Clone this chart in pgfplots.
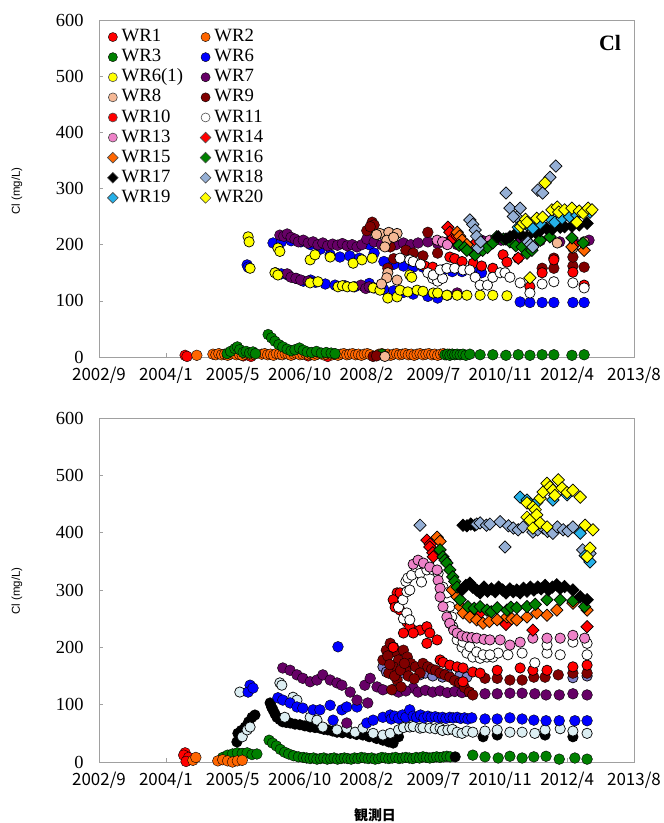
\documentclass[border=0pt]{standalone}
\usepackage{fontspec}
\setmainfont{Liberation Serif}
\newfontfamily\jpfont{Noto Sans CJK JP}
\newfontfamily\sansfont{Liberation Sans}
\usepackage{pgfplots}
\pgfplotsset{compat=1.18}

\definecolor{cRed}{HTML}{FF0000}
\definecolor{cOrange}{HTML}{FF6600}
\definecolor{cGreen}{HTML}{008000}
\definecolor{cBlue}{HTML}{0000FF}
\definecolor{cYellow}{HTML}{FFFF00}
\definecolor{cPurple}{HTML}{660066}
\definecolor{cPeach}{HTML}{F5B895}
\definecolor{cMaroon}{HTML}{800000}
\definecolor{cPink}{HTML}{EE82C8}
\definecolor{cSteel}{HTML}{95AFD5}
\definecolor{cSky}{HTML}{25B0E8}
\definecolor{cPale}{HTML}{DCEEF2}
\definecolor{cLav}{HTML}{8080C8}
\definecolor{cFrame}{HTML}{A0A0A0}

% left legend column gets a fixed width
\newcommand{\lcol}[1]{\makebox[75bp][l]{#1}}

\pgfplotsset{
  pc/.style={only marks, mark=*, mark size=5.4pt, mark options={draw=none, fill=#1}},
  ec/.style={only marks, mark=*, mark size=5.2pt, mark options={draw=black, fill=#1, line width=0.7pt}},
  ed/.style={only marks, mark=square*, mark size=4.4pt, mark options={rotate=45, draw=black, fill=#1, line width=0.7pt}},
  lc/.style={only marks, mark=*, mark size=4.6pt, mark options={draw=none, fill=#1}},
  lec/.style={only marks, mark=*, mark size=4.5pt, mark options={draw=black!70, fill=#1, line width=0.6pt}},
  led/.style={only marks, mark=square*, mark size=3.8pt, mark options={rotate=45, draw=black!70, fill=#1, line width=0.6pt}},
  panel/.style={
    scale only axis, width=535bp, clip=false,
    xmin=2002.667, xmax=2013.621, ymin=0, ymax=600,
    xtick={2002.667,2004.036,2005.405,2006.775,2008.144,2009.513,2010.882,2012.252,2013.621},
    xticklabels={2002/9,2004/1,2005/5,2006/10,2008/2,2009/7,2010/11,2012/4,2013/8},
    ytick={0,100,...,600},
    tick pos=left, tick align=inside, major tick length=4bp,
    axis line style={draw=cFrame, line width=0.8bp},
    tick style={draw=cFrame, line width=0.6bp},
    xticklabel style={font=\jpfont\fontsize{17}{17}\selectfont, yshift=-7bp},
    yticklabel style={font=\fontsize{18.5}{18.5}\selectfont, xshift=-12bp},
    /pgf/number format/assume math mode=true,
  },
}

\begin{document}
\begin{tikzpicture}
\path[use as bounding box] (0,0) rectangle (664bp,-823bp);

% ---------------- upper panel ----------------
\begin{axis}[panel, at={(99bp,-357bp)}, anchor=south west, height=337bp,
  legend columns=2, legend cell align=left,
  legend style={at={(0,1)}, anchor=north west, xshift=8.5bp, yshift=-7bp,
    draw=none, fill=none, inner sep=0pt, outer sep=0pt,
    font=\fontsize{18.8}{18.8}\selectfont,
    nodes={text height=13.5bp, text depth=4.3bp, inner ysep=1.15bp, inner xsep=3.5bp}}]

\addlegendimage{lc=cRed}\addlegendentry{\lcol{WR1}}
\addlegendimage{lc=cOrange}\addlegendentry{WR2}
\addlegendimage{lc=cGreen}\addlegendentry{\lcol{WR3}}
\addlegendimage{lc=cBlue}\addlegendentry{WR6}
\addlegendimage{lec=cYellow}\addlegendentry{\lcol{WR6(1)}}
\addlegendimage{lc=cPurple}\addlegendentry{WR7}
\addlegendimage{lec=cPeach}\addlegendentry{\lcol{WR8}}
\addlegendimage{lc=cMaroon}\addlegendentry{WR9}
\addlegendimage{lec=cRed}\addlegendentry{\lcol{WR10}}
\addlegendimage{lec=white}\addlegendentry{WR11}
\addlegendimage{lec=cPink}\addlegendentry{\lcol{WR13}}
\addlegendimage{led=cRed}\addlegendentry{WR14}
\addlegendimage{led=cOrange}\addlegendentry{\lcol{WR15}}
\addlegendimage{led=cGreen}\addlegendentry{WR16}
\addlegendimage{led=black}\addlegendentry{\lcol{WR17}}
\addlegendimage{led=cSteel}\addlegendentry{WR18}
\addlegendimage{led=cSky}\addlegendentry{\lcol{WR19}}
\addlegendimage{led=cYellow}\addlegendentry{WR20}

% WR1
\addplot[pc=cRed, forget plot] coordinates {(2004.43,3) (2004.47,1) (2005.62,2) (2005.78,1) (2006.95,2) (2007.35,1)};
% WR2
\addplot[pc=cOrange, forget plot] coordinates {
(2004.67,3) (2005.00,5) (2005.06,4) (2005.12,6) (2005.18,4) (2005.24,5) (2005.30,3) (2005.36,5) (2005.42,6) (2005.48,4)
(2005.54,5) (2005.60,3) (2005.66,5) (2005.72,6) (2005.78,4) (2005.84,5) (2006.00,5) (2006.06,6) (2006.12,4) (2006.18,5)
(2006.24,3) (2006.30,6) (2006.36,5) (2006.42,4) (2006.48,6) (2006.54,5) (2006.60,3) (2006.66,5) (2006.72,6) (2006.78,4)
(2006.84,5) (2006.90,6) (2006.96,4) (2007.02,5) (2007.08,3) (2007.14,5) (2007.20,6) (2007.26,4) (2007.32,5) (2007.38,6)
(2007.44,4) (2007.50,5) (2007.56,3) (2007.62,5) (2007.68,6) (2007.74,4) (2007.80,5) (2007.86,6) (2007.92,4) (2007.98,5)
(2008.04,3) (2008.10,5) (2008.16,6) (2008.22,4) (2008.40,5) (2008.46,6) (2008.52,4) (2008.58,5) (2008.64,3) (2008.70,5)
(2008.76,6) (2008.82,4) (2008.88,5) (2008.94,6) (2009.00,4) (2009.06,5) (2009.12,3) (2009.18,5) (2009.24,6) (2009.30,4)
(2009.36,5) (2009.42,6) (2009.48,4) (2009.54,5) (2009.60,3) (2009.66,5) (2009.72,6) (2009.78,4) (2009.84,5) (2009.90,5)};
% WR3
\addplot[pc=cGreen, forget plot] coordinates {
(2005.29,6) (2005.36,10) (2005.45,15) (2005.50,18) (2005.55,13) (2005.62,8) (2005.68,10) (2005.75,7) (2005.82,9) (2005.87,6)
(2006.13,40) (2006.20,34) (2006.27,28) (2006.35,22) (2006.43,18) (2006.52,14) (2006.60,11) (2006.68,13) (2006.77,16) (2006.85,12)
(2006.93,9) (2007.02,8) (2007.12,10) (2007.22,7) (2007.32,8) (2007.42,7) (2007.50,6) (2008.46,5)
(2009.75,4) (2009.80,5) (2009.85,3) (2009.90,5) (2009.95,4) (2010.00,5) (2010.06,4) (2010.12,5) (2010.18,3) (2010.26,5)
(2010.47,4) (2010.73,4) (2011.00,3) (2011.25,4) (2011.49,3) (2011.74,4) (2011.98,4) (2012.35,3) (2012.60,4)};
% WR6
\addplot[pc=cBlue, forget plot] coordinates {
(2006.23,203) (2006.40,205) (2006.60,207) (2006.80,205) (2007.00,200) (2007.20,192) (2007.40,182) (2007.60,178) (2007.80,180)
(2008.00,176) (2008.20,200) (2008.30,185) (2008.50,170) (2008.70,165) (2008.90,162) (2009.10,160) (2009.30,160) (2009.50,158)
(2009.70,155) (2009.90,152) (2010.10,152) (2010.30,155) (2010.50,150)
(2005.70,164) (2005.72,160) (2006.28,150) (2006.40,148) (2006.55,145) (2006.70,140) (2006.85,135) (2007.00,137) (2007.10,133)
(2007.30,130) (2007.50,128) (2007.70,127) (2007.90,125) (2008.10,125) (2008.20,131) (2008.30,123) (2008.50,120) (2008.70,118)
(2008.90,115) (2009.10,112) (2009.40,108) (2009.60,105) (2009.80,110)
(2011.29,98) (2011.49,97) (2011.74,97) (2011.98,97) (2012.37,97) (2012.60,97)};
% WR7
\addplot[pc=cPurple, forget plot] coordinates {
(2006.37,217) (2006.45,215) (2006.52,219) (2006.60,213) (2006.68,210) (2006.75,205) (2006.85,208) (2006.95,203) (2007.05,205)
(2007.15,200) (2007.25,203) (2007.35,198) (2007.45,201) (2007.55,199) (2007.65,202) (2007.75,198) (2007.85,200) (2007.95,196)
(2008.05,200) (2008.15,210) (2008.30,205) (2008.45,200) (2008.60,205) (2008.75,200) (2008.90,203) (2009.05,200) (2009.20,203)
(2009.40,205) (2009.60,202) (2009.80,205) (2010.00,200) (2010.20,198) (2010.50,208) (2010.90,208) (2011.30,205) (2011.70,207)
(2012.10,205) (2012.40,203) (2012.70,208)
(2006.52,148) (2006.60,142) (2006.70,140) (2006.80,137) (2006.95,135) (2008.03,128) (2008.13,122) (2008.20,125) (2010.00,114)};
% WR6(1)
\addplot[ec=cYellow, forget plot] coordinates {
(2005.72,214) (2005.74,205) (2005.76,158) (2006.27,150) (2006.33,146) (2006.33,194) (2006.37,188)
(2006.99,173) (2007.09,182) (2007.40,178) (2007.87,167) (2008.05,173) (2008.26,176) (2009.03,146)
(2006.99,132) (2007.15,134) (2007.56,125) (2007.65,127) (2007.75,125) (2007.87,125) (2008.28,123) (2008.42,119) (2008.58,105)
(2008.77,107) (2008.83,119) (2008.99,116) (2009.07,142) (2009.18,119) (2009.30,117) (2009.51,114) (2009.60,114) (2009.79,110)
(2010.00,110) (2010.20,110) (2010.47,110) (2010.73,110) (2011.02,109)};
% WR9
\addplot[pc=cMaroon, forget plot] coordinates {
(2008.26,240) (2008.30,235) (2008.20,228) (2008.15,225) (2008.22,232) (2008.63,196) (2008.58,158) (2008.70,175) (2009.40,222)
(2008.95,190) (2009.10,185) (2009.30,180) (2009.60,185) (2011.74,158) (2011.98,158) (2012.37,162) (2012.60,160) (2011.98,176)
(2012.37,178) (2008.28,1) (2008.35,2)};
% WR8
\addplot[ec=cPeach, forget plot] coordinates {
(2008.42,220) (2008.60,222) (2008.77,220) (2008.56,208) (2008.52,196) (2008.58,150) (2008.56,141) (2008.77,137) (2008.45,130)
(2008.35,218) (2008.70,213) (2008.52,1) (2012.37,194) (2012.05,203) (2012.60,205)};
% WR10
\addplot[ec=cRed, forget plot] coordinates {
(2009.34,162) (2009.50,160) (2009.85,178) (2009.95,175) (2010.10,170) (2010.33,167) (2010.50,162) (2010.73,158) (2010.94,182)
(2011.02,169) (2011.25,176) (2011.49,125) (2011.74,150) (2011.98,173) (2012.37,151) (2012.60,128)};
% WR11
\addplot[ec=white, forget plot] coordinates {
(2008.83,176) (2009.03,173) (2009.10,170) (2009.25,165) (2009.40,150) (2009.50,140) (2009.60,135) (2009.70,140) (2009.51,146)
(2009.65,155) (2009.79,158) (2009.95,158) (2010.12,155) (2010.26,155) (2010.37,142) (2010.47,128) (2010.62,128) (2010.73,142)
(2010.88,150) (2010.98,150) (2011.08,142) (2011.29,132) (2011.49,114) (2011.74,130) (2011.98,134) (2012.37,132) (2012.60,123)};
% WR13
\addplot[ec=cPink, forget plot] coordinates {(2009.59,208) (2009.70,205) (2009.80,200) (2010.67,208)};
% WR14
\addplot[ed=cRed, forget plot] coordinates {(2009.81,231) (2009.85,222) (2009.92,212) (2010.00,215) (2010.40,205) (2011.25,176) (2012.40,200)};
% WR15
\addplot[ed=cOrange, forget plot] coordinates {(2010.00,222) (2010.05,215) (2010.10,208) (2010.20,200) (2012.35,196) (2012.60,190)};
% WR16
\addplot[ed=cGreen, forget plot] coordinates {
(2010.04,199) (2010.15,195) (2010.20,190) (2010.37,182) (2010.52,190) (2010.62,195) (2010.73,203) (2010.81,214) (2010.95,210)
(2011.08,205) (2011.20,198) (2011.33,196) (2011.43,185) (2011.53,190) (2011.70,208) (2011.90,214) (2012.35,212) (2012.58,203)};
% WR17
\addplot[ed=black, forget plot] coordinates {
(2010.84,214) (2011.00,210) (2011.08,214) (2011.20,220) (2011.30,218) (2011.43,214) (2011.60,222) (2011.70,225) (2011.83,229)
(2011.95,228) (2012.11,231) (2012.20,232) (2012.35,233) (2012.50,235) (2012.66,238)};
% WR18
\addplot[ed=cSteel, forget plot] coordinates {
(2010.26,244) (2010.32,236) (2010.37,226) (2010.40,215) (2010.43,194) (2010.48,205) (2011.00,292) (2011.08,265) (2011.29,265)
(2011.22,249) (2011.15,250) (2011.45,205) (2011.50,200) (2011.55,196) (2011.65,297) (2011.75,292) (2011.80,310) (2011.90,320) (2012.02,340)};
% WR19
\addplot[ed=cSky, forget plot] coordinates {
(2011.25,231) (2011.43,235) (2011.55,229) (2011.70,238) (2011.94,244) (2012.00,240) (2012.15,247) (2012.30,250) (2012.45,253) (2012.72,258)};
% WR20
\addplot[ed=cYellow, forget plot] coordinates {
(2011.80,310) (2011.30,232) (2011.35,238) (2011.40,245) (2011.43,240) (2011.63,247) (2011.75,249) (2011.94,262) (2012.05,267)
(2012.08,258) (2012.20,262) (2012.35,265) (2012.45,240) (2012.50,260) (2012.58,256) (2012.68,265) (2012.76,262) (2011.49,141)};
\end{axis}

% ---------------- lower panel ----------------
\begin{axis}[panel, at={(99bp,-762bp)}, anchor=south west, height=344bp]
% WR3
\addplot[pc=cGreen] coordinates {
(2005.20,8) (2005.30,12) (2005.40,14) (2005.50,16) (2005.60,15) (2005.70,16) (2005.80,13) (2005.90,14)
(2006.15,38) (2006.22,33) (2006.30,28) (2006.38,22) (2006.47,17) (2006.55,14) (2006.65,11) (2006.75,9)
(2006.85,8) (2006.92,7) (2006.99,6) (2007.06,7) (2007.13,5) (2007.20,6) (2007.27,7) (2007.34,5) (2007.41,6) (2007.48,7)
(2007.55,5) (2007.62,6) (2007.69,7) (2007.76,6) (2007.83,5) (2007.90,7) (2007.97,6) (2008.04,8) (2008.11,7) (2008.18,6)
(2008.25,7) (2008.32,5) (2008.39,6) (2008.46,8) (2008.53,7) (2008.60,6) (2008.67,7) (2008.74,8) (2008.81,6) (2008.88,7)
(2008.95,8) (2009.02,7) (2009.09,6) (2009.16,8) (2009.23,7) (2009.30,9) (2009.37,8) (2009.44,7) (2009.51,8) (2009.58,9)
(2009.65,8) (2009.72,9) (2009.79,10) (2009.86,9)
(2010.32,12) (2010.57,9) (2010.84,7) (2011.08,10) (2011.33,7) (2011.57,9) (2011.82,10) (2012.09,5) (2012.41,7) (2012.66,5)};
% black circles
\addplot[ec=black] coordinates {
(2005.49,35) (2005.51,50) (2005.58,55) (2005.66,61) (2005.73,70) (2005.80,78) (2005.86,82) (2006.17,103) (2006.20,96)
(2006.23,91) (2006.27,84) (2006.31,78) (2006.37,74) (2006.43,70) (2006.50,69) (2006.58,68) (2006.68,66) (2006.78,65)
(2006.88,63) (2006.99,61) (2007.09,60) (2007.19,59) (2007.27,57) (2007.35,56) (2007.45,54) (2007.54,52) (2007.65,51)
(2007.81,50) (2007.94,48) (2008.07,47) (2008.20,44) (2008.35,41) (2008.48,38) (2008.60,35) (2008.69,33) (2008.80,44)
(2009.96,9) (2010.53,44) (2010.82,47) (2011.80,47) (2012.37,44)};
% pale cyan circles
\addplot[ec=cPale] coordinates {
(2005.55,122) (2005.60,44) (2005.70,56) (2005.76,61) (2006.37,138) (2006.41,134) (2006.47,78) (2006.64,113) (2006.72,108)
(2006.99,78) (2007.13,73) (2007.25,61) (2007.54,56) (2007.74,59) (2007.91,52) (2008.07,59) (2008.28,50) (2008.48,47)
(2008.63,50) (2008.80,56) (2008.90,60) (2009.03,61) (2009.10,62) (2009.24,59) (2009.30,60) (2009.44,59) (2009.55,58)
(2009.65,59) (2009.70,55) (2009.81,56) (2009.90,57) (2010.00,52) (2010.10,50) (2010.20,54) (2010.32,52) (2010.57,54)
(2010.82,56) (2011.08,52) (2011.33,52) (2011.59,50) (2011.80,56) (2012.11,58) (2012.37,54) (2012.66,50)};
% WR6
\addplot[pc=cBlue] coordinates {
(2005.76,134) (2005.72,122) (2005.82,129) (2006.33,112) (2006.43,108) (2006.58,103) (2006.72,96) (2006.84,94) (2007.05,91)
(2007.19,91) (2007.40,99) (2007.46,73) (2007.64,91) (2007.74,96) (2007.95,96) (2008.15,68) (2008.28,73) (2008.48,78)
(2008.63,82) (2008.77,78) (2007.56,201)
(2008.65,75) (2008.72,80) (2008.80,76) (2008.88,82) (2008.95,78) (2009.03,91) (2009.10,80) (2009.17,78) (2009.25,82)
(2009.32,77) (2009.40,80) (2009.47,78) (2009.55,79) (2009.62,77) (2009.70,78) (2009.77,76) (2009.85,78) (2009.92,77)
(2010.00,78) (2010.07,76) (2010.15,77) (2010.22,75) (2010.30,77) (2010.57,75) (2010.82,75) (2011.08,77) (2011.33,75)
(2011.57,73) (2011.82,72) (2012.09,72) (2012.41,72) (2012.66,72)};
% WR1, WR2
\addplot[pc=cRed] coordinates {(2004.43,16) (2004.47,4) (2004.45,10) (2004.40,12) (2004.50,8) (2004.45,1)};
\addplot[pc=cOrange] coordinates {(2004.59,3) (2004.65,8) (2005.10,2) (2005.20,4) (2005.30,2) (2005.40,0) (2005.50,2) (2005.60,3)};
% WR7
\addplot[pc=cPurple] coordinates {
(2006.43,164) (2006.58,160) (2006.72,152) (2006.84,146) (2006.99,140) (2007.13,143) (2007.25,152) (2007.40,143) (2007.54,138)
(2007.64,134) (2007.81,122) (2008.11,134) (2008.22,146) (2007.95,108) (2008.17,103) (2008.36,131) (2007.74,68) (2008.48,126)
(2008.69,126) (2009.10,129) (2008.80,122) (2008.95,124) (2009.20,122) (2009.35,125) (2009.50,122) (2009.65,124) (2009.80,121)
(2009.95,123) (2010.10,121) (2010.25,122) (2010.57,119) (2010.82,119) (2011.08,120) (2011.33,120) (2011.59,119) (2011.82,117)
(2012.09,117) (2012.37,119) (2012.66,117)};
% lavender circles
\addplot[ec=cLav] coordinates {
(2008.48,166) (2008.55,157) (2008.63,155) (2008.75,152) (2008.90,155) (2009.24,152) (2009.35,155) (2009.50,150) (2009.70,148)
(2009.80,155) (2010.05,150) (2010.20,148) (2012.37,147) (2012.66,150)};
% WR9
\addplot[pc=cMaroon] coordinates {
(2008.48,178) (2008.55,195) (2008.63,207) (2008.70,200) (2008.77,190) (2008.80,178) (2008.69,166) (2008.77,143) (2008.85,131)
(2008.90,195) (2008.98,183) (2009.05,172) (2009.15,166) (2009.24,155) (2009.30,172) (2009.40,166) (2009.48,162) (2009.56,160)
(2009.65,155) (2009.75,152) (2009.85,148) (2009.95,142) (2010.05,138) (2010.15,130) (2010.25,122) (2010.32,117) (2008.60,155)
(2008.66,126) (2008.72,150) (2008.95,160) (2008.58,185) (2008.62,170) (2008.84,160) (2008.92,172) (2009.00,150) (2009.12,145)
(2010.57,146) (2010.82,146) (2011.08,143) (2011.33,143) (2011.57,148) (2011.80,148)
(2012.07,152) (2012.37,155) (2012.66,155)};
% WR10
\addplot[ec=cRed] coordinates {
(2008.77,295) (2008.73,277) (2008.83,265) (2008.97,244) (2009.10,230) (2009.24,230) (2009.38,236) (2009.44,225) (2009.59,213)
(2008.69,200) (2008.69,283) (2008.73,270) (2008.83,295) (2009.03,236) (2009.10,225) (2009.38,207) (2009.65,178) (2008.90,225)
(2009.71,174) (2009.85,169) (2010.00,166) (2010.12,164) (2010.32,157) (2010.47,155) (2010.12,140) (2010.82,160) (2011.29,164)
(2011.55,160) (2011.84,160) (2012.37,166) (2012.66,169)};
% WR11
\addplot[ec=white] coordinates {
(2008.80,270) (2008.90,250) (2008.89,283) (2008.97,297) (2008.95,315) (2008.99,321) (2009.03,300) (2008.97,260) (2009.03,248)
(2009.07,326) (2009.15,340) (2009.24,329) (2009.27,314) (2009.38,335) (2009.51,335) (2009.61,329) (2009.71,305) (2009.79,295)
(2009.85,271) (2009.89,253) (2009.91,236) (2010.00,213) (2010.10,200) (2010.20,190) (2010.32,183) (2010.47,181) (2010.61,183)
(2010.73,183) (2010.84,190) (2009.85,242) (2010.00,225) (2010.12,209) (2010.26,201) (2010.40,192) (2010.53,187) (2010.67,187)
(2011.04,187) (2011.33,190) (2011.59,173) (2011.84,190) (2011.84,204) (2012.11,187) (2012.37,209) (2012.66,187) (2012.66,207)};
% WR13
\addplot[ec=cPink] coordinates {
(2009.10,345) (2009.20,352) (2009.31,347) (2009.44,340) (2009.59,335) (2009.61,317) (2009.65,303) (2009.65,288) (2009.71,271)
(2009.79,253) (2009.85,242) (2009.93,230) (2010.00,225) (2010.10,220) (2010.20,218) (2010.30,217) (2010.40,216) (2010.55,214)
(2010.67,213) (2010.88,213) (2011.08,204) (2011.29,209) (2011.55,216) (2011.84,216) (2012.11,216) (2012.37,221) (2012.61,216)};
% WR14
\addplot[ed=cRed] coordinates {
(2009.38,387) (2009.45,380) (2009.44,375) (2009.50,365) (2009.51,358) (2010.32,265) (2010.47,260) (2011.00,240) (2011.55,230) (2012.66,236)};
% WR15
\addplot[ed=cOrange] coordinates {
(2009.59,392) (2009.65,385) (2009.90,300) (2010.00,288) (2010.06,271) (2010.12,260) (2010.26,253) (2010.40,248) (2010.53,242)
(2010.66,245) (2010.82,248) (2011.02,253) (2011.12,250) (2011.22,248) (2011.43,253) (2011.63,260) (2011.84,256) (2012.04,265)
(2012.37,277) (2012.66,265)};
% WR16
\addplot[ed=cGreen] coordinates {
(2009.65,370) (2009.71,358) (2009.75,352) (2009.79,347) (2009.85,335) (2009.91,323) (2009.95,315) (2010.00,305) (2010.06,283)
(2010.22,271) (2010.35,268) (2010.47,271) (2010.61,265) (2010.70,262) (2010.82,269) (2011.02,265) (2011.10,270) (2011.22,269)
(2011.43,271) (2011.60,275) (2011.84,283) (2012.11,283) (2012.37,281) (2012.61,271)};
% WR17
\addplot[ed=black] coordinates {
(2010.10,300) (2010.18,308) (2010.26,312) (2010.32,305) (2010.40,300) (2010.47,295) (2010.55,305) (2010.62,298) (2010.70,302)
(2010.78,297) (2010.85,305) (2010.93,300) (2011.00,295) (2011.08,302) (2011.15,297) (2011.22,300) (2011.29,295) (2011.36,303)
(2011.43,298) (2011.50,305) (2011.57,300) (2011.65,305) (2011.72,302) (2011.80,308) (2011.87,300) (2011.95,305) (2012.04,309)
(2012.11,303) (2012.20,306) (2012.37,300) (2012.52,288) (2012.66,283)
(2010.12,413) (2010.20,412) (2010.28,415) (2010.36,413)};
% WR18
\addplot[ed=cSteel] coordinates {
(2009.24,413) (2010.40,415) (2010.47,417) (2010.60,413) (2010.67,415) (2010.88,419) (2010.98,375) (2011.05,412) (2011.15,408)
(2011.25,405) (2011.35,410) (2011.55,401) (2011.65,405) (2011.76,408) (2011.85,402) (2011.96,399) (2012.05,410) (2012.17,405)
(2012.27,403) (2012.37,410) (2012.57,370) (2012.72,364)};
% WR19
\addplot[ed=cSky] coordinates {
(2011.29,462) (2011.43,457) (2011.50,450) (2011.63,453) (2011.96,457) (2012.25,466) (2012.52,399) (2012.62,360) (2012.72,349)};
% WR20
\addplot[ed=cYellow] coordinates {
(2011.43,452) (2011.55,445) (2011.60,440) (2011.70,460) (2011.76,471) (2011.84,486) (2011.90,480) (2011.96,474) (2012.00,465)
(2012.07,492) (2012.15,478) (2012.25,470) (2012.37,474) (2012.52,462) (2011.43,427) (2011.49,422) (2011.63,431) (2011.70,417)
(2011.84,410) (2011.55,408) (2012.62,413) (2012.78,405) (2012.72,373) (2012.66,358)};
\end{axis}

% titles and axis names
\node[font=\bfseries\fontsize{22}{22}\selectfont] at (610bp,-43bp) {Cl};
\node[rotate=90, font=\sansfont\fontsize{11.5}{11.5}\selectfont] at (17bp,-191bp) {Cl (mg/L)};
\node[rotate=90, font=\sansfont\fontsize{11.5}{11.5}\selectfont] at (17bp,-591bp) {Cl (mg/L)};
\node[font=\jpfont\bfseries\fontsize{14}{14}\selectfont] at (375bp,-815bp) {観測日};
\end{tikzpicture}
\end{document}
